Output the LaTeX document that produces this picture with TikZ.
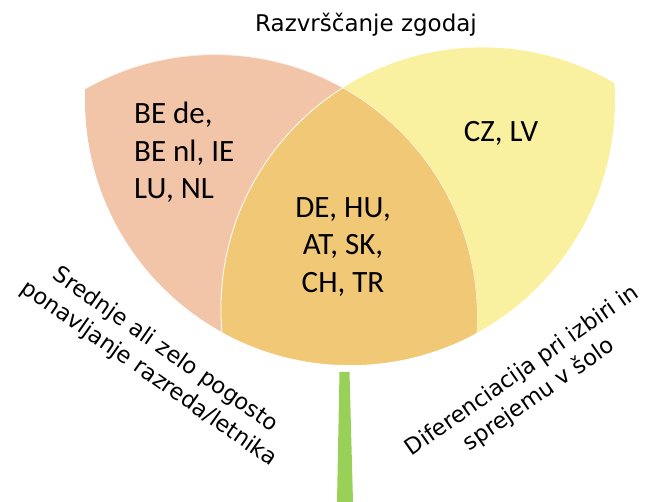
\documentclass[tikz,border=0pt]{standalone}
\usepackage{fontspec}
\setmainfont{Carlito}
\newfontfamily\verdfont{DejaVu Sans}
\definecolor{petalpink}{RGB}{243,197,168}
\definecolor{petalyellow}{RGB}{250,241,160}
\definecolor{petalcore}{RGB}{240,200,118}
\definecolor{stemgreen}{RGB}{153,208,88}
\tikzset{
  country/.style={font=\fontsize{31}{37.5}\selectfont, inner sep=0pt},
  sidelabel/.style={font=\verdfont\fontsize{22.5}{29}\selectfont, align=center, inner sep=0pt},
}
\begin{document}
\begin{tikzpicture}[x=1pt,y=-1pt]
  \useasboundingbox (0,0) rectangle (648,502);
  % circle centres
  \coordinate (cA) at (350,100);
  \coordinate (cB) at (215,317);
  \coordinate (cC) at (482.5,309);
  % stem
  \fill[stemgreen] (339.5,372) -- (349.5,372) -- (353,502) -- (337,502) -- cycle;
  % left petal
  \begin{scope}
    \clip (cA) circle[radius=265pt];
    \fill[petalpink] (cB) circle[radius=262.5pt];
  \end{scope}
  % right petal
  \begin{scope}
    \clip (cA) circle[radius=265pt];
    \fill[petalyellow] (cC) circle[radius=261.6pt];
  \end{scope}
  % overlap
  \begin{scope}
    \clip (cA) circle[radius=265pt];
    \clip (cB) circle[radius=262.5pt];
    \fill[petalcore] (cC) circle[radius=261.6pt];
    \draw[white, line width=0.8pt] (cC) circle[radius=261.6pt] (cB) circle[radius=262.5pt];
  \end{scope}
  % texts
  \node[font=\verdfont\fontsize{23}{28}\selectfont, anchor=base, inner sep=0pt] (title) at (366,32) {Razvrščanje zgodaj};
  \node[country, anchor=north west, align=left] (lefttxt) at (134,102) {BE de,\\BE nl, IE\\LU, NL};
  \node[country, anchor=north, align=center] (midtxt) at (343,197) {DE, HU,\\AT, SK,\\CH, TR};
  \node[country, anchor=base] (righttxt) at (501,142) {CZ, LV};
  \node[sidelabel, rotate=-35] (leftside) at (157,362) {Srednje ali zelo pogosto\\ponavljanje razreda/letnika};
  \node[sidelabel, rotate=35] (rightside) at (531,383) {Diferenciacija pri izbiri in\\sprejemu v šolo};
\end{tikzpicture}
\end{document}
